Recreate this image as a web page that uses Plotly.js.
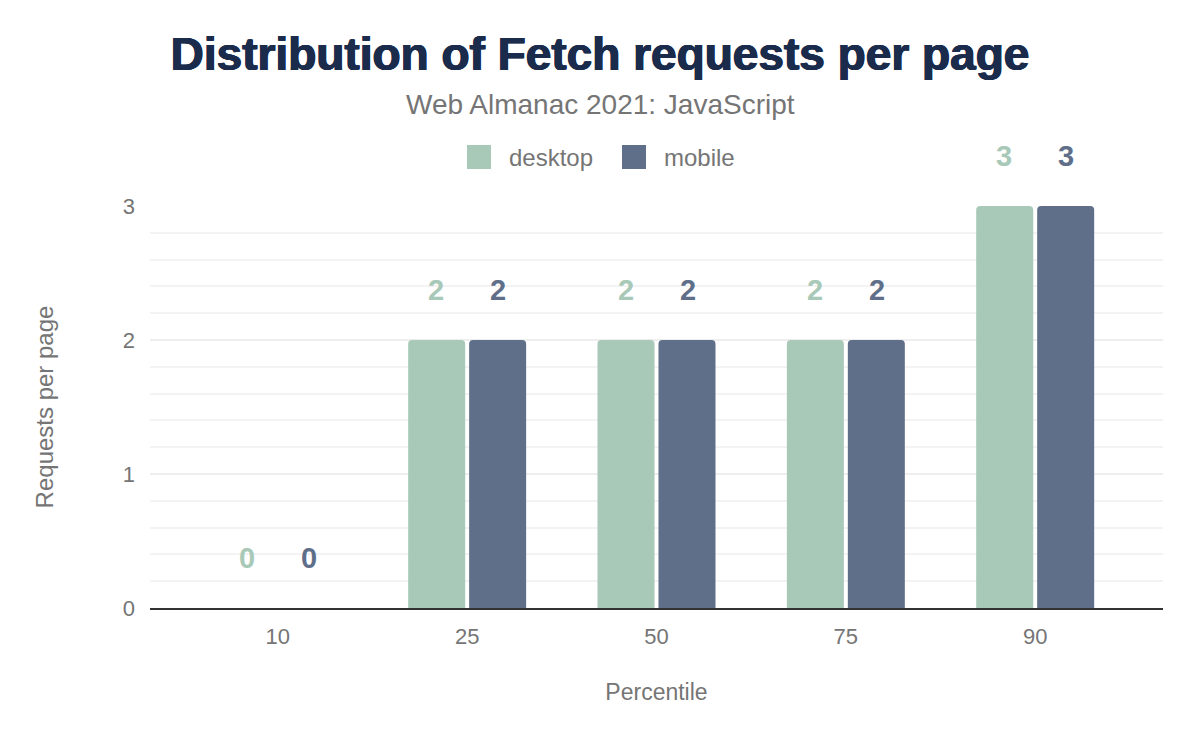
<!DOCTYPE html>
<html>
<head>
<meta charset="utf-8">
<script src="https://cdn.plot.ly/plotly-3.0.1.min.js"></script>
<style>html,body{margin:0;padding:0;background:#fff;}#chart{width:1200px;height:742px;}</style>
</head>
<body>
<div id="chart"></div>
<script>
const percentiles = ["10", "25", "50", "75", "90"];
const seriesNames = ["desktop", "mobile"];
const desktopValues = [0, 2, 2, 2, 3];
const mobileValues = [0, 2, 2, 2, 3];
const seriesColors = ["#a8c9b8", "#5f6f8a"];

const allValues = [desktopValues, mobileValues];
const FONT = "Liberation Sans, Arial, sans-serif";

const traces = allValues.map((vals, i) => ({
  type: "bar",
  name: seriesNames[i],
  x: percentiles,
  y: vals,
  marker: { color: seriesColors[i] },
  showlegend: false,
  cliponaxis: false,
  hoverinfo: "x+y+name"
}));

const annotations = [];
allValues.forEach((vals, i) => {
  vals.forEach((v, j) => {
    annotations.push({
      x: j, y: v, xref: "x", yref: "y",
      text: "<b>" + String(v) + "</b>", showarrow: false,
      xshift: i === 0 ? -31 : 31, yshift: 50,
      yanchor: "middle",
      font: { family: FONT, size: 29, color: seriesColors[i] }
    });
  });
});

// legend (custom, larger swatches)
const legendX = [(467 - 150) / 1013, (622 - 150) / 1013];
const shapes = [];
seriesNames.forEach((n, i) => {
  shapes.push({
    type: "rect", xref: "paper", yref: "paper",
    x0: legendX[i], x1: legendX[i] + 24 / 1013,
    y0: 1 + (206 - 169) / 402, y1: 1 + (206 - 145) / 402,
    fillcolor: seriesColors[i], line: { width: 0 }
  });
  annotations.push({
    xref: "paper", yref: "paper",
    x: legendX[i] + 40 / 1013, y: 1 + (206 - 157) / 402,
    xanchor: "left", yanchor: "middle", showarrow: false,
    text: n,
    font: { family: FONT, size: 24, color: "#757575" }
  });
});

annotations.push({
  xref: "paper", yref: "paper", x: (600 - 150) / 1013, y: 1 + (206 - 105) / 402,
  xanchor: "center", yanchor: "middle", showarrow: false,
  text: "Web Almanac 2021: JavaScript",
  font: { family: FONT, size: 28, color: "#757575" }
});

const layout = {
  width: 1200, height: 742,
  margin: { l: 150, r: 37, t: 206, b: 134 },
  paper_bgcolor: "#fff", plot_bgcolor: "#fff",
  title: {
    text: "<b>Distribution of Fetch requests per page</b>",
    x: 0.5, xref: "container", xanchor: "center", y: 0.928, yref: "container", yanchor: "middle",
    font: { family: FONT, size: 46, color: "#1a2b4b", shadow: "0.7px 0 0 #1a2b4b, -0.7px 0 0 #1a2b4b, 0 0.5px 0 #1a2b4b" }
  },
  barmode: "group",
  bargap: 0.356,
  bargroupgap: 0.065,
  barcornerradius: 4,
  xaxis: {
    type: "category",
    range: [-0.675, 4.675],
    showgrid: false,
    showline: true, linecolor: "#333", linewidth: 2,
    ticks: "", ticklabelstandoff: 8,
    tickfont: { family: FONT, size: 22, color: "#757575" },
    title: { text: "Percentile", standoff: 35, font: { family: FONT, size: 23, color: "#757575" } }
  },
  yaxis: {
    range: [0, 3],
    dtick: 1,
    showgrid: true, gridcolor: "#eeeeee", gridwidth: 1.5,
    minor: { dtick: 0.2, showgrid: true, gridcolor: "#f3f3f3", gridwidth: 1.5 },
    zeroline: false,
    ticks: "", ticklabelstandoff: 14,
    tickfont: { family: FONT, size: 22, color: "#757575" },
    title: { text: "Requests per page", standoff: 62, font: { family: FONT, size: 24, color: "#757575" } }
  },
  annotations: annotations,
  shapes: shapes,
  showlegend: false
};

Plotly.newPlot("chart", traces, layout, { displayModeBar: false });
</script>
</body>
</html>
